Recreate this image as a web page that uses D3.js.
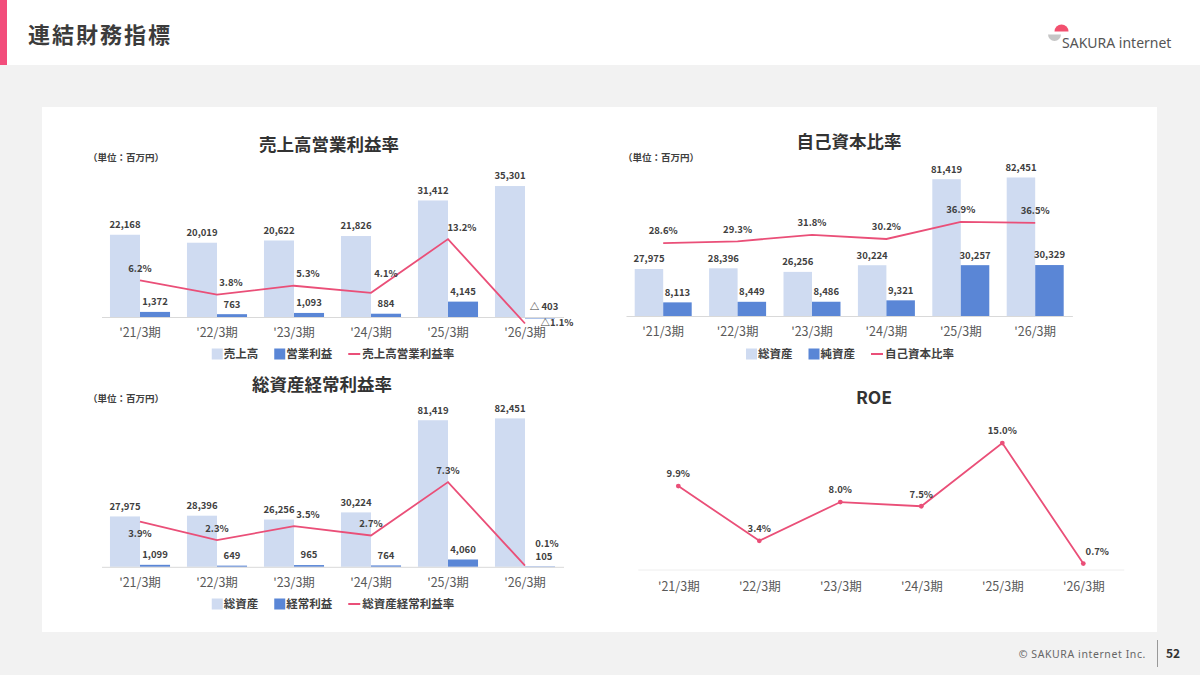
<!DOCTYPE html>
<html><head><meta charset="utf-8">
<script src="https://cdn.jsdelivr.net/npm/d3@7"></script>
<style>
html,body{margin:0;padding:0;background:#f2f2f2;}
svg{display:block;font-family:"Noto Sans CJK JP","Noto Sans",sans-serif;}
</style></head>
<body>
<svg id="c" width="1200" height="675"></svg>
<script>
// ---- data ----
const categories = ["'21/3期","'22/3期","'23/3期","'24/3期","'25/3期","'26/3期"];
const sales = [22168,20019,20622,21826,31412,35301];
const operatingIncome = [1372,763,1093,884,4145,-403];
const operatingMargin = [6.2,3.8,5.3,4.1,13.2,-1.1];
const totalAssets = [27975,28396,26256,30224,81419,82451];
const netAssets = [8113,8449,8486,9321,30257,30329];
const equityRatio = [28.6,29.3,31.8,30.2,36.9,36.5];
const ordinaryIncome = [1099,649,965,764,4060,105];
const ordinaryROA = [3.9,2.3,3.5,2.7,7.3,0.1];
const roe = [9.9,3.4,8.0,7.5,15.0,0.7];
// label placement hints (like Excel data-label positions)
const marginLabelPos = ["above","aboveRight","aboveRight","aboveRightHigh","aboveRight","right"];
const ratioLabelPos = ["above","above","above","above","above","above"];
const roaLabelPos = ["below","above","aboveRight","above","above","aboveRightHigher"];
const roeLabelPos = ["above","above","above","above","above","aboveRight"];

const C_LIGHT = "#cfdbf1", C_DARK = "#5a86d6", C_LINE = "#ea4f78", C_TXT = "#404040";
const svg = d3.select("#c");

// ---- page chrome ----
svg.append("rect").attr("width",1200).attr("height",675).attr("fill","#f2f2f2");
svg.append("rect").attr("width",1200).attr("height",65).attr("fill","#ffffff");
svg.append("rect").attr("width",7).attr("height",65).attr("fill","#f24d7b");
svg.append("text").attr("x",28).attr("y",35).attr("dy","0.36em")
  .attr("font-size",22).attr("font-weight",700).attr("letter-spacing",2).attr("fill","#3c3c3c").text("連結財務指標");
// logo
const lg = svg.append("g");
lg.append("path").attr("d", d3.arc()({innerRadius:0,outerRadius:7,startAngle:-Math.PI/2,endAngle:Math.PI/2}))
  .attr("transform","translate(1061.5,31.5)").attr("fill","#f2506f");
lg.append("path").attr("d", d3.arc()({innerRadius:0,outerRadius:6.5,startAngle:Math.PI/2,endAngle:Math.PI*1.5}))
  .attr("transform","translate(1054.5,34.5)").attr("fill","#c6c6c6");
svg.append("text").attr("x",1062).attr("y",43).attr("dy","0.36em").attr("font-size",14)
  .attr("font-family","'Noto Sans',sans-serif").attr("fill","#555").text("SAKURA internet");
// panel
svg.append("rect").attr("x",42).attr("y",107).attr("width",1115).attr("height",525).attr("fill","#fff");
// footer
svg.append("text").attr("x",1146).attr("y",654).attr("dy","0.36em").attr("text-anchor","end")
  .attr("font-size",10.5).attr("letter-spacing",0.6).attr("font-family","'Noto Sans',sans-serif").attr("fill","#666").text("© SAKURA internet Inc.");
svg.append("line").attr("x1",1157.5).attr("x2",1157.5).attr("y1",640).attr("y2",667).attr("stroke","#999");
svg.append("text").attr("x",1173).attr("y",654).attr("dy","0.36em").attr("text-anchor","middle")
  .attr("font-size",12).attr("font-weight",700).attr("fill","#333").text("52");

// ---- helpers ----
const fmtNum = v => v < 0 ? "△ " + d3.format(",")(-v) : d3.format(",")(v);
const fmtPct = v => v < 0 ? "△" + d3.format(".1f")(-v) + "%" : d3.format(".1f")(v) + "%";
const offsets = {above:[0,-12], below:[0,12], aboveRight:[14,-12], aboveRightHigh:[15,-19],
                 aboveRightHigher:[22,-22], right:[32,-1]};

function title(text, cx, cy){
  svg.append("text").attr("x",cx).attr("y",cy).attr("dy","0.36em").attr("text-anchor","middle")
    .attr("font-size",17.5).attr("font-weight",700).attr("fill","#333").text(text);
}
function unit(x, y){
  svg.append("text").attr("x",x).attr("y",y).attr("dy","0.36em").attr("font-size",9.5)
    .attr("font-weight",700).attr("fill",C_TXT).text("（単位：百万円）");
}
function xAxis(scale, base, pad, stroke){
  const g = svg.append("g").attr("transform",`translate(0,${base})`)
    .call(d3.axisBottom(scale).tickSize(0).tickSizeOuter(0).tickPadding(pad));
  g.select(".domain").attr("stroke",stroke).attr("stroke-width",1);
  g.selectAll("text").attr("font-size",12.5).attr("fill","#595959")
    .attr("font-family","'Noto Sans CJK JP',sans-serif");
}
function legend(items, cx, cy){
  const g = svg.append("g");
  let x = 0;
  items.forEach(it => {
    if (it.type === "rect") {
      g.append("rect").attr("x",x).attr("y",cy-5.5).attr("width",11).attr("height",11).attr("fill",it.color);
      x += 12;
    } else {
      g.append("line").attr("x1",x).attr("x2",x+12).attr("y1",cy).attr("y2",cy)
        .attr("stroke",it.color).attr("stroke-width",2);
      x += 14;
    }
    const t = g.append("text").attr("x",x).attr("y",cy).attr("dy","0.36em").attr("font-size",11.5)
      .attr("font-weight",700).attr("fill",C_TXT).text(it.label);
    x += t.node().getComputedTextLength() + 16;
  });
  const w = x - 16;
  g.attr("transform",`translate(${cx - w/2},0)`);
}
function lineSeries(xc, y, values, pos, markers){
  const pts = values.map((v,i)=>[xc(i), y(v)]);
  svg.append("path").attr("d", d3.line()(pts)).attr("fill","none")
    .attr("stroke",C_LINE).attr("stroke-width",1.8);
  if (markers) {
    svg.append("g").selectAll("circle").data(pts).join("circle")
      .attr("cx",d=>d[0]).attr("cy",d=>d[1]).attr("r",2.4).attr("fill",C_LINE);
  }
  svg.append("g").selectAll("text").data(values).join("text")
    .attr("x",(v,i)=>pts[i][0]+offsets[pos[i]][0]).attr("y",(v,i)=>pts[i][1]+offsets[pos[i]][1])
    .attr("dy","0.36em").attr("text-anchor","middle").attr("font-size",9.5).attr("font-weight",700)
    .attr("fill",C_TXT).text(v=>fmtPct(v));
}
function combo(cfg){
  const x = d3.scaleBand().domain(categories).range(cfg.xr).paddingInner(cfg.pad).paddingOuter(cfg.pad/2);
  const x1 = d3.scaleBand().domain([0,1]).range([0, x.bandwidth()]);
  const y = d3.scaleLinear().domain([0, cfg.barMax]).range([cfg.base, cfg.barTop]);
  const y2 = d3.scaleLinear().domain([0, cfg.lineMax]).range([cfg.base, cfg.lineTop]);
  [cfg.bars1, cfg.bars2].forEach((vals, s) => {
    const g = svg.append("g");
    g.selectAll("rect").data(vals).join("rect")
      .attr("x",(v,i)=>x(categories[i]) + x1(s)).attr("width",x1.bandwidth())
      .attr("y",v=>Math.min(y(v), y(0))).attr("height",v=>Math.max(Math.abs(y(v)-y(0)),0.6))
      .attr("fill", s===0 ? C_LIGHT : C_DARK);
    g.selectAll("text").data(vals).join("text")
      .attr("x",(v,i)=>x(categories[i]) + x1(s) + x1.bandwidth()/2 + (v < 1000 && i === vals.length-1 ? 4 : 0))
      .attr("y",v=>Math.min(y(v), y(0)) - 10).attr("dy","0.36em")
      .attr("text-anchor","middle").attr("font-size",9.5).attr("font-weight",700).attr("fill",C_TXT)
      .text(v=>fmtNum(v));
  });
  xAxis(x, cfg.base, 11, "#d9d9d9");
  const xc = i => x(categories[i]) + x.bandwidth()/2;
  lineSeries(xc, y2, cfg.line, cfg.pos, false);
  title(cfg.title, cfg.tx, cfg.ty);
  unit(cfg.ux, cfg.uy);
  legend([{type:"rect",color:C_LIGHT,label:cfg.names[0]},{type:"rect",color:C_DARK,label:cfg.names[1]},
          {type:"line",color:C_LINE,label:cfg.names[2]}], cfg.lx, cfg.ly);
}

// ---- chart 1 ----
combo({xr:[101.5,563.5], pad:0.22, base:317, barMax:40000, barTop:168.6, lineMax:20, lineTop:199,
  bars1:sales, bars2:operatingIncome, line:operatingMargin, pos:marginLabelPos,
  title:"売上高営業利益率", tx:329, ty:145, ux:88, uy:158, lx:333, ly:354,
  names:["売上高","営業利益","売上高営業利益率"]});
// ---- chart 2 ----
combo({xr:[626,1072.4], pad:0.234, base:316, barMax:90000, barTop:164.8, lineMax:40, lineTop:214,
  bars1:totalAssets, bars2:netAssets, line:equityRatio, pos:ratioLabelPos,
  title:"自己資本比率", tx:849, ty:142, ux:623, uy:158, lx:850, ly:354,
  names:["総資産","純資産","自己資本比率"]});
// ---- chart 3 ----
combo({xr:[101.5,563.5], pad:0.22, base:566.8, barMax:90000, barTop:404.8, lineMax:10, lineTop:450.8,
  bars1:totalAssets, bars2:ordinaryIncome, line:ordinaryROA, pos:roaLabelPos,
  title:"総資産経常利益率", tx:322, ty:385, ux:88, uy:399, lx:333, ly:604,
  names:["総資産","経常利益","総資産経常利益率"]});
// ---- chart 4 (ROE) ----
{
  const x = d3.scalePoint().domain(categories).range([637.8,1123.8]).padding(0.5);
  const y = d3.scaleLinear().domain([0,16]).range([569.5,434.6]);
  xAxis(x, 569.5, 13, "#eeeeee");
  lineSeries(i => x(categories[i]), y, roe, roeLabelPos, true);
  title("ROE", 874, 398);
}
</script>
</body></html>
